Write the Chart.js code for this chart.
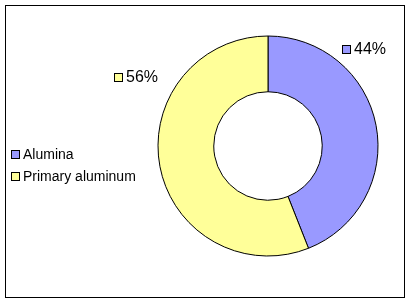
<!DOCTYPE html>
<html>
<head>
<meta charset="utf-8">
<script src="https://cdn.jsdelivr.net/npm/chart.js@4"></script>
<style>
  html, body { margin: 0; padding: 0; background: #fff; }
  #wrap { position: relative; width: 410px; height: 303px; }
</style>
</head>
<body>
<div id="wrap"><canvas id="myChart" width="410" height="303"></canvas></div>
<script>
const labels = ["Alumina", "Primary aluminum"];
const values = [44, 56];
const colors = ["#9999FF", "#FFFF99"];

// where the percent labels sit (box top-left), and the legend
const pctPos = [[342, 45], [114, 73]];
const legendX = 11, legendY = [154, 176];

const extras = {
  id: "extras",
  afterDraw(chart) {
    const ctx = chart.ctx;
    ctx.save();
    // outer frame
    ctx.strokeStyle = "#000";
    ctx.lineWidth = 1;
    ctx.strokeRect(5.5, 5.5, 399, 292);

    const total = values.reduce((a, b) => a + b, 0);
    ctx.textBaseline = "middle";
    ctx.textAlign = "left";
    ctx.fillStyle = "#000";

    // percent labels
    ctx.font = "16px 'Liberation Sans', Arial, sans-serif";
    values.forEach((v, i) => {
      const [x, y] = pctPos[i];
      ctx.fillStyle = colors[i];
      ctx.fillRect(x, y, 8, 8);
      ctx.strokeRect(x + 0.5, y + 0.5, 8, 8);
      ctx.fillStyle = "#000";
      ctx.fillText(Math.round(v / total * 100) + "%", x + 12, y + 5);
    });

    // legend
    ctx.font = "14px 'Liberation Sans', Arial, sans-serif";
    labels.forEach((l, i) => {
      const y = legendY[i];
      ctx.fillStyle = colors[i];
      ctx.fillRect(legendX, y - 4, 8, 8);
      ctx.strokeRect(legendX + 0.5, y - 3.5, 8, 8);
      ctx.fillStyle = "#000";
      ctx.fillText(l, legendX + 12, y + 1);
    });
    ctx.restore();
  }
};

const config = {
  type: "doughnut",
  data: {
    labels: labels,
    datasets: [{
      data: values,
      backgroundColor: colors,
      borderColor: "#000",
      borderWidth: 1,
      radius: 110,
      cutout: 54,
    }],
  },
  options: {
    responsive: false,
    animation: false,
    layout: { padding: { left: 158, right: 32, top: 36, bottom: 47 } },
    plugins: {
      legend: { display: false },
      tooltip: { enabled: false },
    },
  },
  plugins: [extras],
};

const myChart = new Chart(document.getElementById("myChart"), config);
</script>
</body>
</html>
